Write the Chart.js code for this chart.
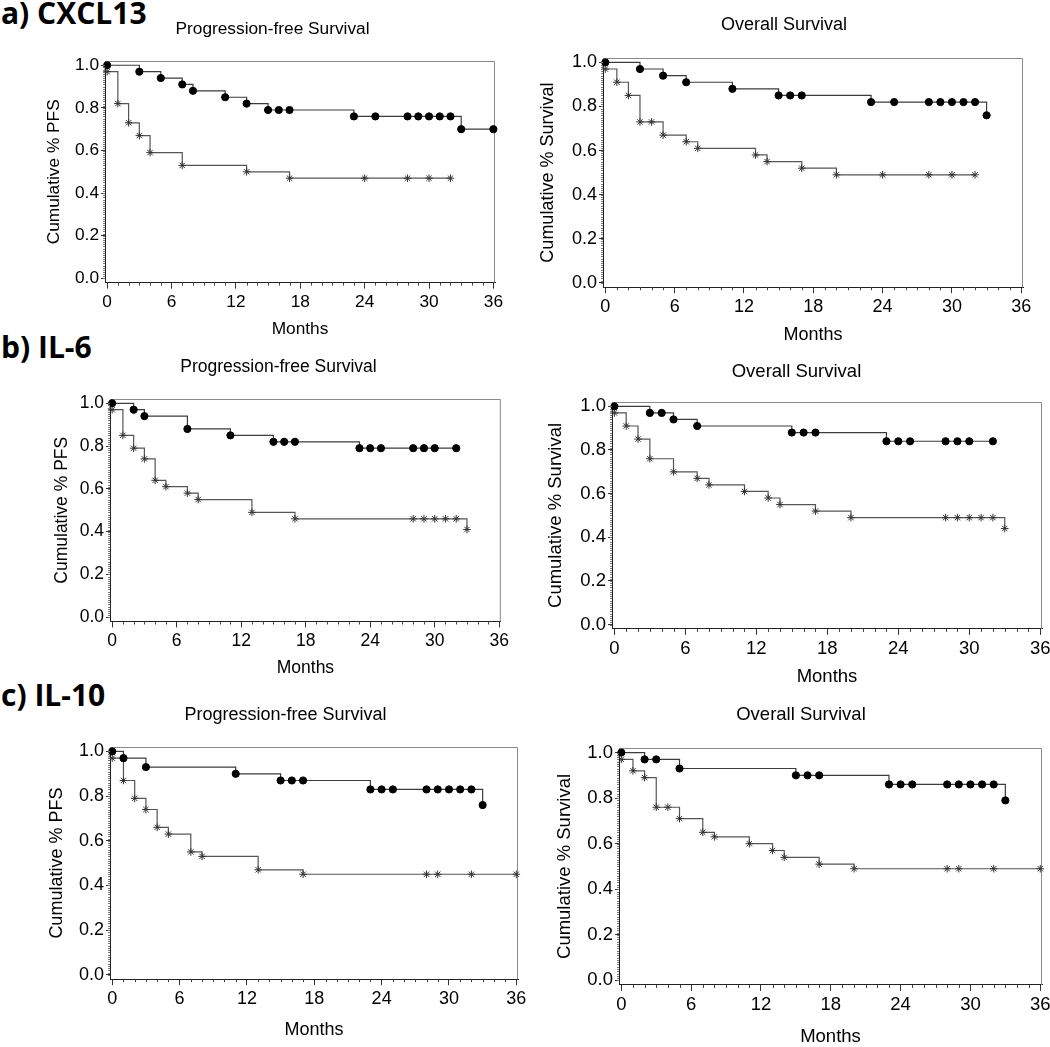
<!DOCTYPE html>
<html>
<head>
<meta charset="utf-8">
<script src="https://cdn.jsdelivr.net/npm/chart.js@4.4.1/dist/chart.umd.min.js"></script>
<style>
    body { margin: 0; background: #fff; width: 1050px; height: 1047px; position: relative; overflow: hidden; }
    canvas { position: absolute; }
    .label { position: absolute; left: 1px; font: 700 30px "Open Sans"; line-height: 30px; color: #000; white-space: nowrap; }
</style>
</head>
<body>
<div class="label" style="top: -2px">a) CXCL13</div>
<div class="label" style="top: 332px">b) IL-6</div>
<div class="label" style="top: 680px">c) IL-10</div>

<script>
// Kaplan-Meier steps: time (months) and cumulative survival
// "circle" = curve marked with filled dots, "star" = curve marked with asterisks
const monthTicks = [0, 6, 12, 18, 24, 30, 36];
const survivalTicks = [0.0, 0.2, 0.4, 0.6, 0.8, 1.0];

// a) CXCL13
const cxcl13PfsCircleT = [0, 3, 5, 7, 8, 11, 13, 15, 16, 17, 23, 25, 28, 29, 30, 31, 32, 33, 36];
const cxcl13PfsCircleS = [1.00, 0.97, 0.94, 0.91, 0.88, 0.85, 0.82, 0.79, 0.79, 0.79, 0.76, 0.76, 0.76, 0.76, 0.76, 0.76, 0.76, 0.70, 0.70];
const cxcl13PfsStarT = [0, 1, 2, 3, 4, 7, 13, 17, 24, 28, 30, 32];
const cxcl13PfsStarS = [0.97, 0.82, 0.73, 0.67, 0.59, 0.53, 0.50, 0.47, 0.47, 0.47, 0.47, 0.47];

const cxcl13OsCircleT = [0, 3, 5, 7, 11, 15, 16, 17, 23, 25, 28, 29, 30, 31, 32, 33];
const cxcl13OsCircleS = [1.00, 0.97, 0.94, 0.91, 0.88, 0.85, 0.85, 0.85, 0.82, 0.82, 0.82, 0.82, 0.82, 0.82, 0.82, 0.76];
const cxcl13OsStarT = [0, 1, 2, 3, 4, 5, 7, 8, 13, 14, 17, 20, 24, 28, 30, 32];
const cxcl13OsStarS = [0.97, 0.91, 0.85, 0.73, 0.73, 0.67, 0.64, 0.61, 0.58, 0.55, 0.52, 0.49, 0.49, 0.49, 0.49, 0.49];

// b) IL-6
const il6PfsCircleT = [0, 2, 3, 7, 11, 15, 16, 17, 23, 24, 25, 28, 29, 30, 32];
const il6PfsCircleS = [1.00, 0.97, 0.94, 0.88, 0.85, 0.82, 0.82, 0.82, 0.79, 0.79, 0.79, 0.79, 0.79, 0.79, 0.79];
const il6PfsStarT = [0, 1, 2, 3, 4, 5, 7, 8, 13, 17, 28, 29, 30, 31, 32, 33];
const il6PfsStarS = [0.97, 0.85, 0.79, 0.74, 0.64, 0.61, 0.58, 0.55, 0.49, 0.46, 0.46, 0.46, 0.46, 0.46, 0.46, 0.41];

const il6OsCircleT = [0, 3, 4, 5, 7, 15, 16, 17, 23, 24, 25, 28, 29, 30, 32];
const il6OsCircleS = [1.00, 0.97, 0.97, 0.94, 0.91, 0.88, 0.88, 0.88, 0.84, 0.84, 0.84, 0.84, 0.84, 0.84, 0.84];
const il6OsStarT = [0, 1, 2, 3, 5, 7, 8, 11, 13, 14, 17, 20, 28, 29, 30, 31, 32, 33];
const il6OsStarS = [0.97, 0.91, 0.85, 0.76, 0.70, 0.67, 0.64, 0.61, 0.58, 0.55, 0.52, 0.49, 0.49, 0.49, 0.49, 0.49, 0.49, 0.44];

// c) IL-10
const il10PfsCircleT = [0, 1, 3, 11, 15, 16, 17, 23, 24, 25, 28, 29, 30, 31, 32, 33];
const il10PfsCircleS = [1.00, 0.97, 0.93, 0.90, 0.87, 0.87, 0.87, 0.83, 0.83, 0.83, 0.83, 0.83, 0.83, 0.83, 0.83, 0.76];
const il10PfsStarT = [0, 1, 2, 3, 4, 5, 7, 8, 13, 17, 28, 29, 32, 36];
const il10PfsStarS = [0.97, 0.87, 0.79, 0.74, 0.66, 0.63, 0.55, 0.53, 0.47, 0.45, 0.45, 0.45, 0.45, 0.45];

const il10OsCircleT = [0, 2, 3, 5, 15, 16, 17, 23, 24, 25, 28, 29, 30, 31, 32, 33];
const il10OsCircleS = [1.00, 0.97, 0.97, 0.93, 0.90, 0.90, 0.90, 0.86, 0.86, 0.86, 0.86, 0.86, 0.86, 0.86, 0.86, 0.79];
const il10OsStarT = [0, 1, 2, 3, 4, 5, 7, 8, 11, 13, 14, 17, 20, 28, 29, 32, 36];
const il10OsStarS = [0.97, 0.92, 0.89, 0.76, 0.76, 0.71, 0.65, 0.63, 0.60, 0.57, 0.54, 0.51, 0.49, 0.49, 0.49, 0.49, 0.49];

// where each panel sits on the page (frame = plot box left, top, right, bottom)
const panels = [
    { title: "Progression-free Survival", yTitle: "Cumulative % PFS", fs: 17.3,
      frame: [105, 61, 495, 283], tx: 272.5, ty: 29, ytx: 54, mo: 47,
      circle: [cxcl13PfsCircleT, cxcl13PfsCircleS], star: [cxcl13PfsStarT, cxcl13PfsStarS] },
    { title: "Overall Survival", yTitle: "Cumulative % Survival", fs: 18,
      frame: [603, 58, 1023, 287], tx: 784, ty: 25, ytx: 548, mo: 48,
      circle: [cxcl13OsCircleT, cxcl13OsCircleS], star: [cxcl13OsStarT, cxcl13OsStarS] },
    { title: "Progression-free Survival", yTitle: "Cumulative % PFS", fs: 17.5,
      frame: [110, 399, 501, 621], tx: 278.5, ty: 367, ytx: 62, mo: 47,
      circle: [il6PfsCircleT, il6PfsCircleS], star: [il6PfsStarT, il6PfsStarS] },
    { title: "Overall Survival", yTitle: "Cumulative % Survival", fs: 18.5,
      frame: [612, 402, 1042, 629], tx: 796.5, ty: 371.5, ytx: 556, mo: 48,
      circle: [il6OsCircleT, il6OsCircleS], star: [il6OsStarT, il6OsStarS] },
    { title: "Progression-free Survival", yTitle: "Cumulative % PFS", fs: 18,
      frame: [110, 747, 518, 979], tx: 285.5, ty: 715, ytx: 57, mo: 51,
      circle: [il10PfsCircleT, il10PfsCircleS], star: [il10PfsStarT, il10PfsStarS] },
    { title: "Overall Survival", yTitle: "Cumulative % Survival", fs: 18.5,
      frame: [619, 748, 1042, 985], tx: 801, ty: 715, ytx: 565, mo: 52,
      circle: [il10OsCircleT, il10OsCircleS], star: [il10OsStarT, il10OsStarS] }
];

const fontFamily = "'Liberation Sans', Arial, sans-serif";

// gray box line along the top and right of the plot
const framePlugin = {
    id: "frame",
    beforeDatasetsDraw(chart) {
        const { ctx, chartArea: a } = chart;
        ctx.save();
        ctx.strokeStyle = "#8a8a8a";
        ctx.lineWidth = 1;
        ctx.beginPath();
        ctx.moveTo(a.left, a.top + 0.5);
        ctx.lineTo(a.right - 0.5, a.top + 0.5);
        ctx.lineTo(a.right - 0.5, a.bottom);
        ctx.stroke();
        ctx.restore();
    }
};

// small ticks every month on x and dense ticks on y
const minorTicksPlugin = {
    id: "minorTicks",
    afterDraw(chart) {
        const { ctx, chartArea: a, scales } = chart;
        ctx.save();
        ctx.strokeStyle = "#444";
        ctx.lineWidth = 1;
        ctx.beginPath();
        for (let m = 0; m <= 36; m++) {
            if (m % 6 === 0) continue;
            const px = Math.round(scales.x.getPixelForValue(m)) + 0.5;
            ctx.moveTo(px, a.bottom);
            ctx.lineTo(px, a.bottom + 3);
        }
        ctx.stroke();

        ctx.strokeStyle = "#777";
        ctx.beginPath();
        for (let k = 0; k <= 100; k++) {
            const py = Math.round(scales.y.getPixelForValue(k / 100)) + 0.5;
            ctx.moveTo(a.left - 2, py);
            ctx.lineTo(a.left, py);
        }
        ctx.stroke();
        ctx.restore();
    }
};

function toPoints(times, values) {
    return times.map((t, i) => ({ x: t, y: values[i] }));
}

function drawPanel(p) {
    const [L, T, R, B] = p.frame;
    const lineH = 1.2 * p.fs;
    const yTitlePad = 3;

    const canvasLeft = Math.round(p.ytx - lineH / 2 - yTitlePad);
    const canvasTop = Math.round(p.ty - 2 - lineH / 2);
    const yw = L - canvasLeft;
    const rightW = Math.max(2 * p.tx - canvasLeft - R, 0);
    const padRight = 4;
    const width = Math.round(R + rightW + padRight - canvasLeft);
    const xh = p.mo + lineH / 2 + 3;
    const height = Math.round(B + xh - canvasTop);
    const titlePadTop = p.ty - canvasTop - lineH / 2;
    const titlePadBottom = T - canvasTop - lineH - titlePadTop;

    const canvas = document.createElement("canvas");
    canvas.width = width;
    canvas.height = height;
    canvas.style.left = canvasLeft + "px";
    canvas.style.top = canvasTop + "px";
    document.body.appendChild(canvas);

    const tickFont = { family: fontFamily, size: p.fs };

    new Chart(canvas, {
        type: "line",
        data: {
            datasets: [
                {
                    data: toPoints(p.circle[0], p.circle[1]),
                    stepped: "before",
                    borderColor: "#3c3c3c",
                    borderWidth: 1.2,
                    pointStyle: "circle",
                    pointRadius: 3.6,
                    pointBackgroundColor: "#000",
                    pointBorderColor: "#000",
                    pointBorderWidth: 1,
                    clip: false
                },
                {
                    data: toPoints(p.star[0], p.star[1]),
                    stepped: "before",
                    borderColor: "#555",
                    borderWidth: 1.2,
                    pointStyle: "star",
                    pointRadius: 3.8,
                    pointBackgroundColor: "#333",
                    pointBorderColor: "#333",
                    pointBorderWidth: 1,
                    clip: false
                }
            ]
        },
        options: {
            responsive: false,
            animation: false,
            devicePixelRatio: 1,
            layout: { padding: { left: 0, right: padRight, top: 0, bottom: 0 } },
            plugins: {
                legend: { display: false },
                tooltip: { enabled: false },
                title: {
                    display: true,
                    text: p.title,
                    color: "#000",
                    font: { family: fontFamily, size: p.fs, weight: "normal" },
                    padding: { top: titlePadTop, bottom: titlePadBottom }
                }
            },
            scales: {
                x: {
                    type: "linear",
                    position: "bottom",
                    min: -0.2,
                    max: 36.15,
                    afterBuildTicks(axis) {
                        axis.ticks = monthTicks.map((v) => ({ value: v }));
                    },
                    afterFit(axis) {
                        axis.height = xh;
                    },
                    ticks: {
                        autoSkip: false,
                        maxRotation: 0,
                        color: "#000",
                        font: tickFont,
                        padding: 3,
                        callback: (v) => String(v)
                    },
                    grid: { drawOnChartArea: false, tickLength: 6, color: "#333" },
                    border: { color: "#222", width: 1 },
                    title: {
                        display: true,
                        text: "Months",
                        color: "#000",
                        font: tickFont,
                        padding: { top: 0, bottom: 3 }
                    }
                },
                y: {
                    type: "linear",
                    position: "left",
                    min: -0.02,
                    max: 1.02,
                    afterBuildTicks(axis) {
                        axis.ticks = survivalTicks.map((v) => ({ value: v }));
                    },
                    afterFit(axis) {
                        axis.width = yw;
                    },
                    ticks: {
                        color: "#000",
                        font: tickFont,
                        padding: 2,
                        callback: (v) => v.toFixed(1)
                    },
                    grid: { drawOnChartArea: false, tickLength: 4, color: "#333" },
                    border: { color: "#222", width: 1 },
                    title: {
                        display: true,
                        text: p.yTitle,
                        color: "#000",
                        font: tickFont,
                        padding: { top: yTitlePad, bottom: 0 }
                    }
                },
                yr: {
                    type: "linear",
                    position: "right",
                    display: true,
                    min: 0,
                    max: 1,
                    afterFit(axis) {
                        axis.width = rightW;
                    },
                    ticks: { display: false },
                    grid: { display: false, drawTicks: false },
                    border: { display: false }
                }
            }
        },
        plugins: [framePlugin, minorTicksPlugin]
    });
}

for (let p of panels)
    drawPanel(p);
</script>
</body>
</html>
